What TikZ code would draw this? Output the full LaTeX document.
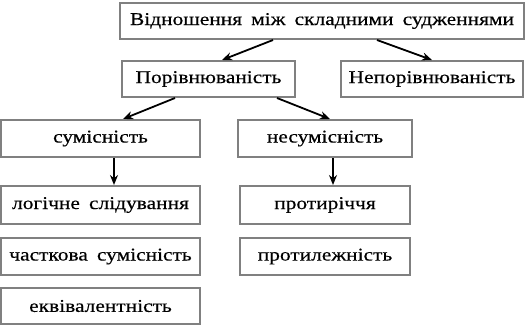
\documentclass[tikz,border=0pt]{standalone}
\usepackage{fontspec}
\setmainfont{Liberation Serif}[FakeStretch=1.19,FakeBold=0.35,WordSpace=1.7]
\usetikzlibrary{arrows.meta}
\begin{document}
\begin{tikzpicture}[x=1pt,y=-1pt,
  box/.style={draw=black!50,line width=2pt,fill=white,minimum height=36pt,inner sep=0pt,font=\fontsize{18}{20}\selectfont},
  arr/.style={line width=1.8pt,-{Stealth[length=10pt,width=8pt]}}]
\useasboundingbox (0,0) rectangle (527,327);
\node[box,minimum width=404pt] (top) at (322,21) {Відношення між складними судженнями};
\node[box,minimum width=173pt] (por) at (208.5,79) {Порівнюваність};
\node[box,minimum width=182pt] (nepor) at (432,79) {Непорівнюваність};
\node[box,minimum width=199pt,minimum height=37pt] (sum) at (100.5,138.5) {сумісність};
\node[box,minimum width=174pt,minimum height=37pt] (nesum) at (325,138.5) {несумісність};
\node[box,minimum width=199pt,minimum height=38pt] (log) at (100.5,205) {логічне слідування};
\node[box,minimum width=170pt,minimum height=38pt] (prot) at (325,205) {протиріччя};
\node[box,minimum width=199pt,minimum height=37pt] (chast) at (100.5,256.5) {часткова сумісність};
\node[box,minimum width=170pt,minimum height=37pt] (protyl) at (325,256.5) {протилежність};
\node[box,minimum width=199pt] (ekv) at (100.5,306) {еквівалентність};
\draw[arr] ([xshift=-49pt]top.south) -- ([xshift=13.5pt]por.north);
\draw[arr] ([xshift=55pt]top.south) -- (nepor.north);
\draw[arr] ([xshift=-33.5pt]por.south) -- ([xshift=22.5pt]sum.north);
\draw[arr] ([xshift=68.5pt]por.south) -- ([xshift=5pt]nesum.north);
\draw[arr] ([xshift=13.5pt]sum.south) -- ([xshift=13.5pt]log.north);
\draw[arr] ([xshift=8pt]nesum.south) -- ([xshift=8pt]prot.north);
\end{tikzpicture}
\end{document}
